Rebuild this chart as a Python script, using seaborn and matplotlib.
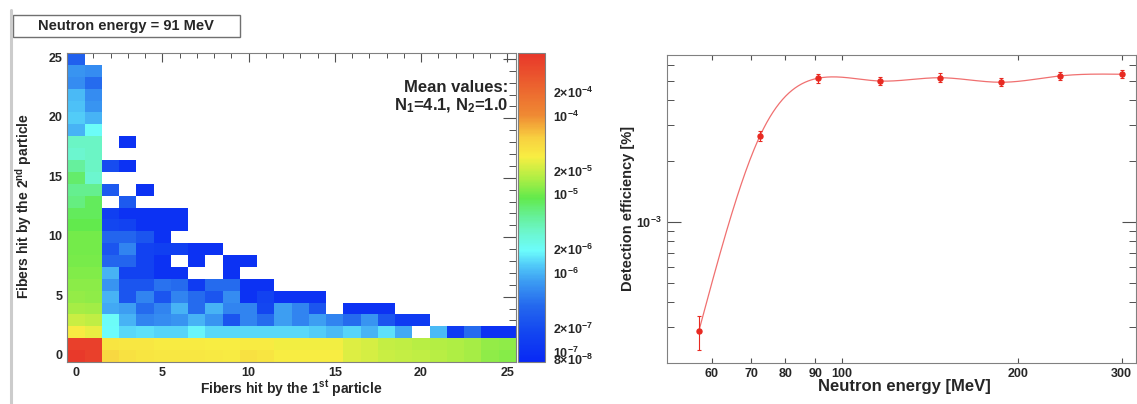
import numpy as np
import pandas as pd
import matplotlib
matplotlib.use("Agg")
import matplotlib.pyplot as plt
import seaborn as sns
from matplotlib.colors import LinearSegmentedColormap, LogNorm
from matplotlib.ticker import LogLocator, FuncFormatter, NullFormatter, NullLocator, FixedLocator
from matplotlib.patches import Rectangle
from matplotlib.lines import Line2D

sns.set_style("white")
plt.rcParams['font.family'] = ['Liberation Sans', 'DejaVu Sans']
plt.rcParams['font.weight'] = 'bold'
plt.rcParams['axes.labelweight'] = 'bold'
plt.rcParams['mathtext.fontset'] = 'custom'
plt.rcParams['mathtext.rm'] = 'Liberation Sans:bold'
plt.rcParams['mathtext.it'] = 'Liberation Sans:bold'
plt.rcParams['mathtext.bf'] = 'Liberation Sans:bold'

# ---- left panel: fibers hit by 1st / 2nd particle (log10 of fraction) ----
n = np.nan
fiber_bins = list(range(26))
# rows listed from y=25 (top) down to y=0, columns x=0,1,2,...
hits_log10 = {
    25: [-6.50],
    24: [-6.15, -6.20],
    23: [-6.20, -6.40],
    22: [-5.98, -6.20],
    21: [-5.95, -6.15],
    20: [-5.90, -6.00],
    19: [-6.00, -5.70],
    18: [-5.45, -5.45, n, -7.00],
    17: [-5.50, -5.45],
    16: [-5.30, -5.45, -6.70, -7.00],
    15: [-5.15, -5.50],
    14: [-5.25, -5.25, -6.55, n, -7.00],
    13: [-5.20, -5.10, n, -6.55],
    12: [-5.10, -5.10, -6.85, -7.00, -7.00, -7.00, -7.00],
    11: [-5.05, -5.05, -6.75, -6.80, -7.00, -7.00, -7.00],
    10: [-5.00, -5.00, -6.45, -6.45, -6.60, -7.00],
    9: [-5.00, -5.00, -6.60, -6.25, -6.80, -6.85, -6.85, -7.00, -7.00],
    8: [-4.98, -4.98, -6.45, -6.45, -6.80, -7.00, n, -7.00, n, -7.00, -7.00],
    7: [-4.95, -4.95, -6.00, -6.80, -6.80, -7.00, -7.00, n, n, -7.00],
    6: [-4.92, -4.92, -6.15, -6.60, -6.60, -6.35, -6.40, -6.90, -6.40, -6.40, -7.00, -7.00],
    5: [-4.88, -4.90, -6.00, -6.60, -6.25, -6.60, -6.25, -6.40, -6.60, -6.20, -7.00, -6.80,
        -7.00, -7.00, -7.00],
    4: [-4.82, -4.84, -6.05, -6.10, -6.40, -6.25, -6.00, -6.40, -6.00, -6.25, -6.25, -6.75,
        -6.10, -6.25, -6.60, n, -7.00, -7.00, -7.00],
    3: [-4.70, -4.73, -5.70, -6.00, -6.25, -6.20, -6.15, -6.00, -6.15, -6.60, -6.25, -6.40,
        -6.10, -6.25, -6.10, -6.25, -6.40, -6.15, -6.60, -6.90, -6.90],
    2: [-4.50, -4.58, -5.72, -5.85, -5.82, -5.87, -5.87, -5.75, -5.85, -5.85, -5.85, -5.85,
        -5.85, -5.85, -5.90, -5.97, -5.87, -6.00, -5.82, -6.05, n, -5.97, -6.90, -6.40,
        -7.00, -7.00],
    1: [-3.30, -3.30, -4.45, -4.47, -4.47, -4.50, -4.50, -4.50, -4.52, -4.52, -4.50, -4.50,
        -4.55, -4.55, -4.55, -4.55, -4.62, -4.65, -4.72, -4.74, -4.76, -4.78, -4.80, -4.82,
        -4.88, -4.90],
    0: [-3.25, -3.30, -4.35, -4.42, -4.45, -4.47, -4.47, -4.47, -4.48, -4.50, -4.42, -4.45,
        -4.52, -4.52, -4.52, -4.52, -4.62, -4.65, -4.70, -4.72, -4.74, -4.76, -4.80, -4.82,
        -4.90, -4.93],
}
z_min, z_max = 7.4e-8, 6.2e-4

# ---- right panel: detection efficiency vs neutron energy ----
energy = [57, 72.5, 91, 116, 147, 187, 236, 300]
efficiency = [2.88e-4, 2.67e-3, 5.14e-3, 4.98e-3, 5.17e-3, 4.91e-3, 5.28e-3, 5.38e-3]
efficiency_err = [0.55e-4, 0.16e-3, 0.25e-3, 0.22e-3, 0.26e-3, 0.23e-3, 0.25e-3, 0.24e-3]
energy_ticks = [60, 70, 80, 90, 100, 200, 300]

# build table for heatmap
rows = []
for yv in sorted(hits_log10, reverse=True):
    vals = hits_log10[yv] + [n] * (len(fiber_bins) - len(hits_log10[yv]))
    rows.append(vals)
grid = pd.DataFrame(10 ** np.array(rows), index=sorted(hits_log10, reverse=True), columns=fiber_bins)

root_palette = LinearSegmentedColormap.from_list("root", [
    (0.00, '#0828f5'), (0.10, '#1448f0'), (0.18, '#2468ee'), (0.26, '#3c9cf2'),
    (0.31, '#50c8f8'), (0.36, '#6cfcfc'), (0.42, '#6cf6cc'), (0.47, '#66f09a'),
    (0.53, '#62ea4c'), (0.60, '#b4ee44'), (0.665, '#f8ee42'), (0.725, '#f8d040'),
    (0.80, '#ef8a33'), (1.00, '#e8362a')])

W, H = 1137, 404
fig = plt.figure(figsize=(W / 100, H / 100), dpi=100)
ax = fig.add_axes([67.4 / W, (H - 362) / H, 448.5 / W, 309 / H])
cax = fig.add_axes([518 / W, (H - 362) / H, 27 / W, 309 / H])
ax2 = fig.add_axes([667 / W, (H - 363) / H, 469 / W, 308 / H])

frame_col = '#808080'
tick_col = '#505050'

sns.heatmap(grid, ax=ax, cbar_ax=cax, cmap=root_palette, norm=LogNorm(vmin=z_min, vmax=z_max))

for s in ax.spines.values():
    s.set_visible(True)
    s.set_color(frame_col)
    s.set_linewidth(0.8)

major = [0, 5, 10, 15, 20, 25]
ax.set_xticks([fiber_bins.index(v) + 0.5 for v in major], labels=[str(v) for v in major])
ax.set_xticks([i + 0.5 for i in range(len(fiber_bins))], minor=True)
ylist = list(grid.index)
ax.set_yticks([ylist.index(v) + 0.5 for v in major], labels=[str(v) for v in major], rotation=0)
ax.set_yticks([i + 0.5 for i in range(len(ylist))], minor=True)
ax.tick_params(axis='x', which='major', direction='in', length=6.7, width=0.8, color=tick_col,
               top=True, bottom=True, labelsize=9, pad=3.5)
ax.tick_params(axis='x', which='minor', direction='in', length=3.3, width=0.7, color=tick_col,
               top=True, bottom=True)
ax.tick_params(axis='y', which='major', direction='in', length=9.7, width=0.8, color=tick_col,
               left=True, right=True, labelsize=9, pad=3.5)
ax.tick_params(axis='y', which='minor', direction='in', length=4.8, width=0.7, color=tick_col,
               left=True, right=True)
ax.set_xlabel("Fibers hit by the 1$^{st}$ particle", fontsize=10, va='top')
ax.xaxis.set_label_coords(0.5, -0.052)
ax.set_ylabel("Fibers hit by the 2$^{nd}$ particle", fontsize=10)
ax.yaxis.set_label_coords(-0.0745, 0.505)

ax.text(0.982, 0.875, "Mean values:", transform=ax.transAxes, ha='right', va='baseline',
        fontsize=12, fontweight='bold')
ax.text(0.982, 0.816, "N$_1$=4.1, N$_2$=1.0", transform=ax.transAxes, ha='right',
        va='baseline', fontsize=12)

# colorbar styling
cbar = ax.collections[0].colorbar
cbar.outline.set_linewidth(0.8)
cbar.outline.set_edgecolor(frame_col)


def major_fmt(v, pos):
    return r"$10^{%d}$" % int(round(np.log10(v)))


def minor_fmt(v, pos):
    e = int(np.floor(np.log10(v) + 1e-9))
    m = int(round(v / 10 ** e))
    if m == 2 or (m == 8 and e == -8):
        return r"$%d{\times}10^{%d}$" % (m, e)
    return ""


cbar.locator = LogLocator(base=10, numticks=20)
cbar.minorlocator = LogLocator(base=10, subs=np.arange(2, 10), numticks=20)
cbar.formatter = FuncFormatter(major_fmt)
cbar.minorformatter = FuncFormatter(minor_fmt)
cax.tick_params(which='both', direction='in', right=True, left=False, color=tick_col,
                labelsize=9, pad=5.5)
cax.tick_params(which='major', length=10, width=0.8)
cax.tick_params(which='minor', length=4.3, width=0.7)

# ---- right panel ----
ax2.set_xscale('log')
ax2.set_yscale('log')


def natural_spline(u, v, uu):
    k = len(u)
    h = np.diff(u)
    A = np.zeros((k, k))
    r = np.zeros(k)
    A[0, 0] = A[-1, -1] = 1
    for i in range(1, k - 1):
        A[i, i - 1] = h[i - 1]
        A[i, i] = 2 * (h[i - 1] + h[i])
        A[i, i + 1] = h[i]
        r[i] = 3 * ((v[i + 1] - v[i]) / h[i] - (v[i] - v[i - 1]) / h[i - 1])
    c = np.linalg.solve(A, r)
    b = (v[1:] - v[:-1]) / h - h * (2 * c[:-1] + c[1:]) / 3
    d = (c[1:] - c[:-1]) / (3 * h)
    idx = np.clip(np.searchsorted(u, uu) - 1, 0, k - 2)
    t = uu - u[idx]
    return v[idx] + b[idx] * t + c[idx] * t ** 2 + d[idx] * t ** 3


# smooth connecting curve (like ROOT's "C" draw option) through the measured points
lu = np.log10(energy)
lv = np.log10(efficiency)
uu = np.linspace(lu[0], lu[-1], 400)
smooth = pd.DataFrame({"energy": 10 ** uu, "eff": 10 ** natural_spline(lu, lv, uu)})
sns.lineplot(data=smooth, x="energy", y="eff", ax=ax2, color='#f07070', lw=0.9, sort=False)
ax2.errorbar(energy, efficiency, yerr=efficiency_err, fmt='o', color='#e82a22', ms=3.6,
             elinewidth=0.8, capsize=1.4, capthick=0.8, zorder=3)

ax2.set_xlim(50.3, 317.5)
ax2.set_ylim(2.0e-4, 6.7e-3)
ax2.xaxis.set_major_locator(FixedLocator(energy_ticks))
ax2.xaxis.set_major_formatter(FuncFormatter(lambda v, p: "%d" % v))
ax2.xaxis.set_minor_locator(NullLocator())
ax2.yaxis.set_major_locator(FixedLocator([1e-3]))
ax2.yaxis.set_major_formatter(FuncFormatter(lambda v, p: r"$10^{-3}$"))
ax2.yaxis.set_minor_locator(LogLocator(base=10, subs=np.arange(2, 10), numticks=20))
ax2.yaxis.set_minor_formatter(NullFormatter())
ax2.tick_params(axis='x', which='major', direction='in', length=3.6, width=0.8, color=tick_col,
                top=True, bottom=True, labelsize=9, pad=3.8)
ax2.tick_params(axis='y', which='major', direction='in', length=10, width=0.8, color=tick_col,
                left=True, right=True, labelsize=9, pad=4)
ax2.tick_params(axis='y', which='minor', direction='in', length=5, width=0.7, color=tick_col,
                left=True, right=True)
for s in ax2.spines.values():
    s.set_color(frame_col)
    s.set_linewidth(0.8)
ax2.set_xlabel("Neutron energy [MeV]", fontsize=12, va='top')
ax2.xaxis.set_label_coords(0.507, -0.052)
ax2.set_ylabel("Detection efficiency [%]", fontsize=10.5)
ax2.yaxis.set_label_coords(-0.068, 0.503)

# title box and left separator
fig.add_artist(Rectangle((13 / W, 1 - 37 / H), 227 / W, 22 / H, transform=fig.transFigure,
                         facecolor='white', edgecolor='#707070', lw=1))
fig.text(125.5 / W, 1 - 26 / H, "Neutron energy = 91 MeV", ha='center', va='center',
         fontsize=10.5, fontweight='bold')
fig.add_artist(Line2D([10.5 / W, 10.5 / W], [0, 1 - 10 / H], transform=fig.transFigure,
                      color='#cccccc', lw=2.2))

fig.savefig("out.png", dpi=100)
